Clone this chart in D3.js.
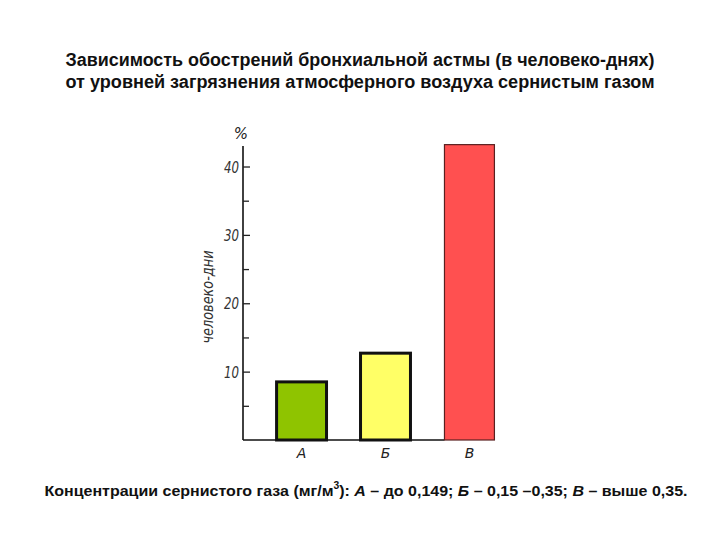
<!DOCTYPE html>
<html><head><meta charset="utf-8">
<script src="https://cdn.jsdelivr.net/npm/d3@7"></script>
<style>body{margin:0;background:#fff}</style>
</head><body>
<svg id="c" width="720" height="540"></svg>
<script>
const categories = ["А", "Б", "В"];
const values = [8.5, 12.7, 43.2];
const colors = ["#8fc400", "#ffff66", "#ff5050"];
const majorTicks = [10, 20, 30, 40];
const minorTicks = [5, 15, 25, 35];
const titleLines = ["Зависимость обострений бронхиальной астмы (в человеко-днях)",
                    "от уровней загрязнения атмосферного воздуха сернистым газом"];
const yLabel = "человеко-дни";

const svg = d3.select("#c");
const x = d3.scaleBand().domain(categories).range([243, 528]).paddingInner(0.405).paddingOuter(0.4);
const y = d3.scaleLinear().domain([0, 43]).range([440, 146]);

svg.selectAll("text.title").data(titleLines).join("text")
  .attr("x", 360).attr("y", (d,i)=>66+i*22).attr("text-anchor","middle")
  .attr("font-family","Liberation Sans, Arial, sans-serif").attr("font-weight","bold")
  .attr("font-size",18).attr("fill","#111").attr("textLength", 589).attr("lengthAdjust","spacingAndGlyphs").text(d=>d);

const g = svg.append("g");
g.append("line").attr("x1",243).attr("x2",243).attr("y1",y(43)).attr("y2",y(0))
  .attr("stroke","#111").attr("stroke-width",1.6);
g.append("line").attr("x1",243).attr("x2",x("В")).attr("y1",y(0)).attr("y2",y(0))
  .attr("stroke","#111").attr("stroke-width",1.6);

const axis = d3.axisRight(y).tickValues(majorTicks).tickSize(7).tickFormat("");
const ag = g.append("g").attr("transform","translate(243,0)").call(axis);
ag.select(".domain").remove();
ag.selectAll(".tick line").attr("stroke","#222").attr("stroke-width",1.3);
const minor = d3.axisRight(y).tickValues(minorTicks).tickSize(6).tickFormat("");
const mg = g.append("g").attr("transform","translate(243,0)").call(minor);
mg.select(".domain").remove();
mg.selectAll(".tick line").attr("stroke","#222").attr("stroke-width",1.3);

g.selectAll("text.tl").data(majorTicks).join("text")
  .attr("x",239).attr("y",d=>y(d)+6).attr("text-anchor","end")
  .attr("font-family","DejaVu Sans, sans-serif").attr("font-style","italic")
  .attr("font-size",15).attr("fill","#333").attr("textLength",15).attr("lengthAdjust","spacingAndGlyphs").text(d=>d);

g.append("text").attr("x",241).attr("y",139).attr("text-anchor","middle")
  .attr("font-family","DejaVu Sans, sans-serif").attr("font-style","italic")
  .attr("font-size",15).attr("fill","#222").text("%");

g.append("text").attr("transform","translate(213,297) rotate(-90)").attr("text-anchor","middle")
  .attr("font-family","DejaVu Sans, sans-serif").attr("font-style","italic")
  .attr("font-size",15).attr("fill","#333").attr("textLength",93).attr("lengthAdjust","spacingAndGlyphs").text(yLabel);

g.selectAll("rect.bar").data(values).join("rect")
  .attr("x",(d,i)=>x(categories[i])).attr("width",x.bandwidth())
  .attr("y",d=>y(d)).attr("height",d=>y(0)-y(d))
  .attr("fill",(d,i)=>colors[i])
  .attr("stroke",(d,i)=>i<2?"#111":"#5a2020")
  .attr("stroke-width",(d,i)=>i<2?3:1.2);

g.selectAll("text.cat").data(categories).join("text")
  .attr("x",d=>x(d)+x.bandwidth()/2).attr("y",458).attr("text-anchor","middle")
  .attr("font-family","DejaVu Sans, sans-serif").attr("font-style","italic")
  .attr("font-size",14).attr("fill","#222").text(d=>d);

const f = svg.append("text").attr("x",366).attr("y",496).attr("text-anchor","middle")
  .attr("font-family","Liberation Sans, Arial, sans-serif").attr("font-weight","bold")
  .attr("font-size",15.5).attr("fill","#111").attr("textLength",643).attr("lengthAdjust","spacingAndGlyphs");
f.append("tspan").text("Концентрации сернистого газа (мг/м");
f.append("tspan").attr("font-size",10).attr("dy",-7).text("3");
f.append("tspan").attr("dy",7).text("): ");
f.append("tspan").attr("font-style","italic").text("А");
f.append("tspan").text(" – до 0,149; ");
f.append("tspan").attr("font-style","italic").text("Б");
f.append("tspan").text(" – 0,15 –0,35; ");
f.append("tspan").attr("font-style","italic").text("В");
f.append("tspan").text(" – выше 0,35.");
</script>
</body></html>
